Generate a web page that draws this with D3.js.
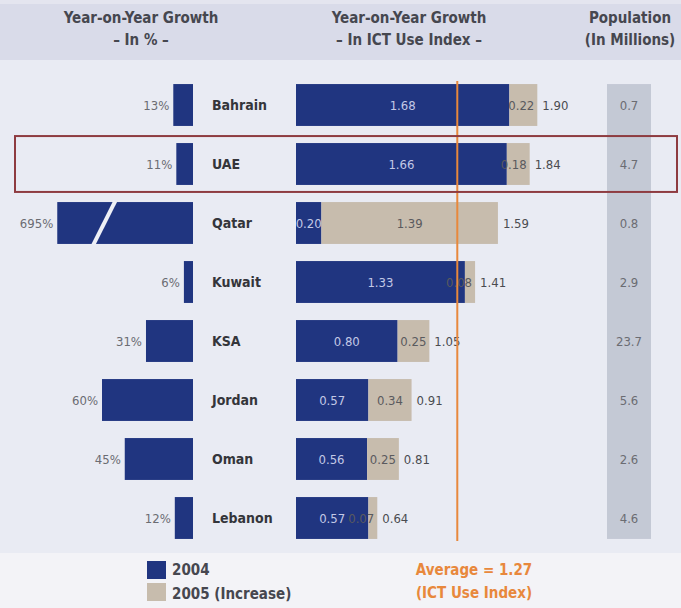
<!DOCTYPE html>
<html lang="en">
<head>
    <meta charset="UTF-8">
    <title>ICT Use Index growth</title>
    <script src="https://d3js.org/d3.v7.min.js"></script>
    <style>
        body{
            margin: 0;
            background: #e9ebf3;
        }
        svg{
            display: block;
            font-family: "Liberation Sans Narrow", "DejaVu Sans Condensed", "Liberation Sans", sans-serif;
        }
        .head
        {
            font-size: 15px;
            font-weight: bold;
            fill: #46474f;
        }
        .country
        {
            font-size: 14px;
            font-weight: bold;
            fill: #34353a;
        }
        .num
        {
            font-size: 13px;
        }
    </style>
</head>
<body>
<svg width="681" height="608"></svg>
<script>
    // data
    let countries = ["Bahrain","UAE","Qatar","Kuwait","KSA","Jordan","Oman","Lebanon"]
    let growthPct = [13, 11, 695, 6, 31, 60, 45, 12]
    let index2004 = [1.68, 1.66, 0.20, 1.33, 0.80, 0.57, 0.56, 0.57]
    let increase2005 = [0.22, 0.18, 1.39, 0.08, 0.25, 0.34, 0.25, 0.07]
    let total2005 = [1.90, 1.84, 1.59, 1.41, 1.05, 0.91, 0.81, 0.64]
    let population = ["0.7","4.7","0.8","2.9","23.7","5.6","2.6","4.6"]
    let average = 1.27
    let highlighted = "UAE"

    let colors = {y2004:"#203580", inc:"#c7bcad", avg:"#e8883c", pop:"#c4c9d5", box:"#8e3b40"}

    let svg = d3.select('svg')

    // background bands
    svg.append("rect").attr("x",0).attr("y",0).attr("width",681).attr("height",60).attr("fill","#d9dbe9")
    svg.append("rect").attr("x",0).attr("y",0).attr("width",681).attr("height",4).attr("fill","#e4e5ef")
    svg.append("rect").attr("x",0).attr("y",553).attr("width",681).attr("height",55).attr("fill","#f3f3f7")

    // headers
    let heads = [
        {x:141, lines:["Year-on-Year Growth","\u2013 In % \u2013"]},
        {x:409, lines:["Year-on-Year Growth","\u2013 In ICT Use Index \u2013"]},
        {x:630, lines:["Population","(In Millions)"]}
    ]
    heads.forEach(function (h){
        h.lines.forEach(function (t,i){
            svg.append("text").attr("class","head")
                .attr("x",h.x).attr("y",23+i*22)
                .attr("text-anchor","middle").text(t)
        })
    })

    // scales
    let yScale = d3.scaleBand().domain(countries).range([75.5,547.5]).paddingInner(0.29).paddingOuter(0.145)
    let bw = yScale.bandwidth()
    let pctScale = d3.scaleLinear().domain([0,60]).range([0,91])
    let pctBreak = 89.5   // bars above this get cut with a break mark
    let pctRight = 193
    let xScale = d3.scaleLinear().domain([0,1.9]).range([296,537.3])

    // population column
    svg.append("rect")
        .attr("x",607).attr("y",yScale(countries[0]))
        .attr("width",44).attr("height",yScale(countries[countries.length-1])+bw-yScale(countries[0]))
        .attr("fill",colors.pop)

    // left: growth in %
    countries.forEach(function (c,i){
        let v = growthPct[i]
        let w = pctScale(Math.min(v,pctBreak))
        let y = yScale(c)
        svg.append("rect").attr("x",pctRight-w).attr("y",y).attr("width",w).attr("height",bw).attr("fill",colors.y2004)
        if (v > pctBreak){
            svg.append("line")
                .attr("x1",pctRight-w+58).attr("y1",y-1)
                .attr("x2",pctRight-w+36).attr("y2",y+bw+1)
                .attr("stroke","#eef0f6").attr("stroke-width",4)
        }
        svg.append("text").attr("class","num").attr("fill","#6b6c72")
            .attr("x",pctRight-w-4).attr("y",y+bw/2).attr("dy","0.35em")
            .attr("text-anchor","end").text(v+"%")
        svg.append("text").attr("class","country")
            .attr("x",212).attr("y",y+bw/2).attr("dy","0.35em").text(c)
    })

    // middle: stacked index bars
    countries.forEach(function (c,i){
        let y = yScale(c)
        let a = index2004[i], b = increase2005[i]
        let segW = xScale(a+b)-xScale(a)
        svg.append("rect").attr("x",xScale(0)).attr("y",y).attr("width",xScale(a)-xScale(0)).attr("height",bw).attr("fill",colors.y2004)
        svg.append("rect").attr("x",xScale(a)).attr("y",y).attr("width",segW).attr("height",bw).attr("fill",colors.inc)
        svg.append("text").attr("class","num").attr("fill","#c3c9e6")
            .attr("x",(xScale(0)+xScale(a))/2).attr("y",y+bw/2).attr("dy","0.35em")
            .attr("text-anchor","middle").text(a.toFixed(2))
        // narrow segments: label pushed left over the dark bar, like the original
        let narrow = segW < 36
        svg.append("text").attr("class","num").attr("fill","#5a5a5e")
            .attr("x",narrow ? xScale(a+b)-3 : (xScale(a)+xScale(a+b))/2)
            .attr("y",y+bw/2).attr("dy","0.35em")
            .attr("text-anchor",narrow ? "end" : "middle").text(b.toFixed(2))
        svg.append("text").attr("class","num").attr("fill","#4a4b50")
            .attr("x",xScale(a+b)+5).attr("y",y+bw/2).attr("dy","0.35em")
            .text(total2005[i].toFixed(2))
        svg.append("text").attr("class","num").attr("fill","#6b6c72")
            .attr("x",629).attr("y",y+bw/2).attr("dy","0.35em")
            .attr("text-anchor","middle").text(population[i])
    })

    // average line
    svg.append("line")
        .attr("x1",xScale(average)).attr("x2",xScale(average))
        .attr("y1",yScale(countries[0])-3).attr("y2",yScale(countries[countries.length-1])+bw+2)
        .attr("stroke",colors.avg).attr("stroke-width",2)

    // highlight box
    let hy = yScale(highlighted)
    svg.append("rect").attr("x",15).attr("y",hy-7).attr("width",662).attr("height",bw+14)
        .attr("fill","none").attr("stroke",colors.box).attr("stroke-width",2)

    // legend
    let legend = [{label:"2004", color:colors.y2004},{label:"2005 (Increase)", color:colors.inc}]
    legend.forEach(function (d,i){
        svg.append("rect").attr("x",147).attr("y",561+i*22).attr("width",19).attr("height",18).attr("fill",d.color)
        svg.append("text").attr("class","head").attr("fill","#3a3b40")
            .attr("x",172).attr("y",570+i*24).attr("dy","0.35em").text(d.label)
    })
    let avgLines = ["Average = "+average.toFixed(2),"(ICT Use Index)"]
    avgLines.forEach(function (t,i){
        svg.append("text").attr("class","head").style("fill",colors.avg)
            .attr("x",474).attr("y",570+i*23).attr("dy","0.35em")
            .attr("text-anchor","middle").text(t)
    })
</script>
</body>
</html>
